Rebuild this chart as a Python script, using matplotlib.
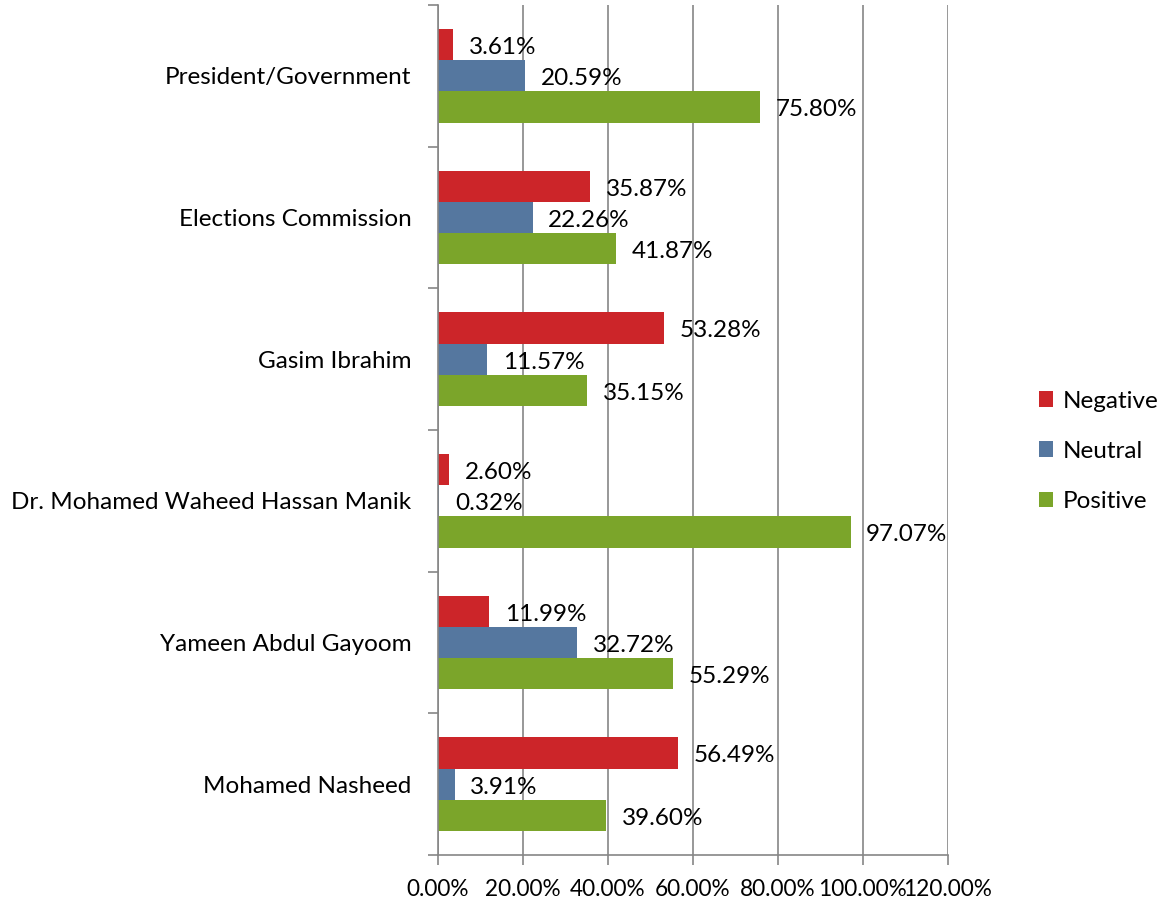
import numpy as np
import matplotlib
matplotlib.use("Agg")
import matplotlib.pyplot as plt
from matplotlib.ticker import FixedLocator, PercentFormatter

plt.rcParams['font.family'] = ['Lato', 'DejaVu Sans']

categories = ["President/Government", "Elections Commission", "Gasim Ibrahim",
              "Dr. Mohamed Waheed Hassan Manik", "Yameen Abdul Gayoom", "Mohamed Nasheed"]
negative = [3.61, 35.87, 53.28, 2.60, 11.99, 56.49]
neutral = [20.59, 22.26, 11.57, 0.32, 32.72, 3.91]
positive = [75.80, 41.87, 35.15, 97.07, 55.29, 39.60]

series = [("Negative", negative, "#CC2529"),
          ("Neutral", neutral, "#55779F"),
          ("Positive", positive, "#7BA52A")]

fs = 17.5

fig = plt.figure(figsize=(11.63, 9.07), dpi=100)
ax = fig.add_axes([0.3766, 0.0573, 0.8151 - 0.3766, 0.9945 - 0.0573])

n = len(categories)
y = np.arange(n)[::-1].astype(float)  # first category on top
h = 0.22
offsets = [-h, 0, h]

for (name, vals, color), off in zip(series, offsets):
    ypos = y - off
    ax.barh(ypos, np.array(vals) / 100, height=h, color=color, label=name, zorder=2)
    for v, yp in zip(vals, ypos):
        ax.text(v / 100 + 0.037, yp - 0.02, f"{v:.2f}%", va="center", ha="left",
                fontsize=fs, zorder=3)

ax.set_xlim(0, 1.2)
ax.set_ylim(-0.5, n - 0.5)
ax.set_xticks(np.arange(0, 1.21, 0.2))
ax.xaxis.set_major_formatter(PercentFormatter(1.0, decimals=2))
ax.set_yticks(y)
ax.set_yticklabels(categories)
ax.yaxis.set_minor_locator(FixedLocator(np.arange(-0.5, n, 1.0)))
ax.tick_params(axis="y", which="major", length=0, pad=19, labelsize=fs)
ax.tick_params(axis="y", which="minor", length=7, color="#868686", width=1.2)
ax.tick_params(axis="x", length=7, color="#868686", width=1.2, pad=10, labelsize=16.3)

ax.grid(axis="x", color="#868686", linewidth=1.2, zorder=1)
ax.set_axisbelow(True)
for s in ["top", "right"]:
    ax.spines[s].set_visible(False)
for s in ["left", "bottom"]:
    ax.spines[s].set_color("#868686")
    ax.spines[s].set_linewidth(1.2)

ax.legend(loc="center left", bbox_to_anchor=(1.135, 0.475), frameon=False,
          fontsize=fs, handlelength=0.6, handleheight=0.6, handletextpad=0.4,
          labelspacing=1.2)

fig.savefig("out.png", dpi=100)
